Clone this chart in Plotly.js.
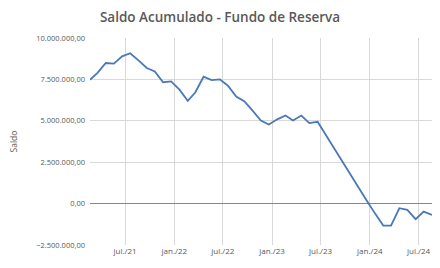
<!DOCTYPE html>
<html>
<head>
<meta charset="utf-8">
<script src="https://cdn.plot.ly/plotly-3.0.1.min.js"></script>
<style>html,body{margin:0;padding:0;background:#fff}#chart{width:440px;height:268px}</style>
</head>
<body>
<div id="chart"></div>
<script>
// Monthly dates (Feb 2021 – Aug 2024)
const months = [
  "2021-02","2021-03","2021-04","2021-05","2021-06","2021-07","2021-08","2021-09","2021-10","2021-11","2021-12",
  "2022-01","2022-02","2022-03","2022-04","2022-05","2022-06","2022-07","2022-08","2022-09","2022-10","2022-11","2022-12",
  "2023-01","2023-02","2023-03","2023-04","2023-05","2023-06","2023-07","2023-08","2023-09","2023-10","2023-11","2023-12",
  "2024-01","2024-02","2024-03","2024-04","2024-05","2024-06","2024-07","2024-08"
];
const dayOfMonth = "20";
// Saldo values
const saldo = [
  7480000, 7890000, 8490000, 8450000, 8890000, 9080000, 8650000, 8190000, 7980000, 7330000, 7380000,
  6880000, 6210000, 6710000, 7660000, 7460000, 7500000, 7120000, 6470000, 6170000, 5610000, 5010000, 4780000,
  5090000, 5320000, 5020000, 5320000, 4860000, 4940000, 4150000, 3370000, 2580000, 1800000, 980000, 190000,
  -590000, -1330000, -1330000, -280000, -380000, -940000, -480000, -680000
];
const tickDates = ["2021-07-01","2022-01-01","2022-07-01","2023-01-01","2023-07-01","2024-01-01","2024-07-01"];
const tickLabels = ["jul./21","jan./22","jul./22","jan./23","jul./23","jan./24","jul./24"];
const yTicks = [-2500000, 0, 2500000, 5000000, 7500000, 10000000];

const dates = months.map(m => m + "-" + dayOfMonth);

const trace = {
  x: dates, y: saldo, type: "scatter", mode: "lines",
  line: {color: "#4a78b8", width: 1.8},
  hoverinfo: "skip"
};

const layout = {
  width: 440, height: 268,
  margin: {l: 90, r: 8, t: 38, b: 23},
  paper_bgcolor: "#fff", plot_bgcolor: "#fff",
  separators: ",.",
  showlegend: false,
  title: {
    text: "Saldo Acumulado - Fundo de Reserva",
    x: 0.5, xanchor: "center", y: 0.935, yanchor: "middle",
    font: {family: "Open Sans, sans-serif", size: 13.5, color: "#595959", weight: 600}
  },
  xaxis: {
    type: "date",
    range: [dates[0], dates[dates.length - 1]],
    tickvals: tickDates, ticktext: tickLabels,
    showgrid: true, gridcolor: "#d9d9d9", gridwidth: 1,
    zeroline: false, showline: false, ticks: "",
    tickfont: {family: "Open Sans, sans-serif", size: 8, color: "#595959"}
  },
  yaxis: {
    range: [-2500000, 10000000],
    tickvals: yTicks, tickformat: ",.2f",
    showgrid: true, gridcolor: "#d9d9d9", gridwidth: 1,
    zeroline: true, zerolinecolor: "#878787", zerolinewidth: 1.3,
    showline: false, ticks: "",
    ticklabelstandoff: 4,
    tickfont: {family: "Open Sans, sans-serif", size: 7.5, color: "#595959"},
    title: {text: "Saldo", standoff: 17, font: {family: "Open Sans, sans-serif", size: 8.5, color: "#595959"}}
  }
};

Plotly.newPlot("chart", [trace], layout, {displayModeBar: false, staticPlot: true});
</script>
</body>
</html>
